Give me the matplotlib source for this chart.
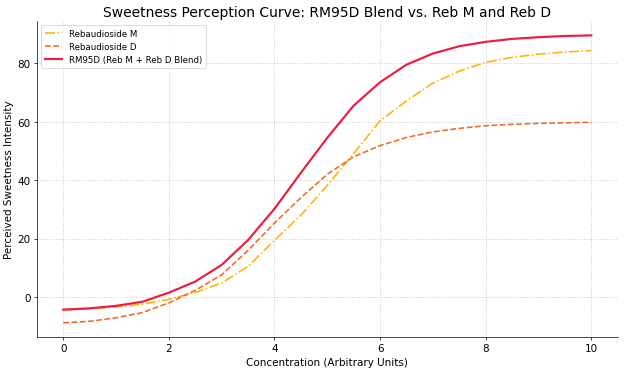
import matplotlib
matplotlib.use("Agg")
import matplotlib.pyplot as plt

# concentration points (at 0.5 steps)
conc = [0, 0.5, 1, 1.5, 2, 2.5, 3, 3.5, 4, 4.5, 5,
        5.5, 6, 6.5, 7, 7.5, 8, 8.5, 9, 9.5, 10]

reb_m = [-4.4, -4.0, -3.4, -2.4, -0.8, 1.6, 4.8, 10.5, 19.4, 28.0, 38.2,
         49.1, 60.3, 67.1, 73.2, 77.3, 80.3, 82.0, 83.1, 83.8, 84.3]
reb_d = [-8.8, -8.3, -7.1, -5.3, -2.0, 2.3, 7.6, 16.0, 25.3, 34.0, 42.0,
         48.0, 51.8, 54.6, 56.5, 57.7, 58.6, 59.1, 59.4, 59.6, 59.8]
rm95d = [-4.3, -3.85, -3.0, -1.6, 1.5, 5.3, 11.0, 19.5, 30.2, 42.5, 54.5,
         65.5, 73.5, 79.5, 83.3, 85.8, 87.3, 88.3, 88.9, 89.3, 89.5]

fig, ax = plt.subplots(figsize=(10, 5.96), dpi=62.4)

ax.plot(conc, reb_m, color="#FFB000", linestyle="-.", linewidth=1.8, label="Rebaudioside M")
ax.plot(conc, reb_d, color="#F26522", linestyle="--", linewidth=1.8, label="Rebaudioside D")
ax.plot(conc, rm95d, color="#EE1C3F", linestyle="-", linewidth=2.5, label="RM95D (Reb M + Reb D Blend)")

ax.set_title("Sweetness Perception Curve: RM95D Blend vs. Reb M and Reb D", fontsize=16)
ax.set_xlabel("Concentration (Arbitrary Units)", fontsize=12)
ax.set_ylabel("Perceived Sweetness Intensity", fontsize=12)
ax.tick_params(labelsize=12)
ax.grid(True, linestyle=":", color="#c4c4c4", linewidth=1)
ax.spines["top"].set_visible(False)
ax.spines["right"].set_visible(False)
ax.legend(loc="upper left", fontsize=10)

fig.subplots_adjust(left=0.059, right=0.99, top=0.941, bottom=0.091)
fig.savefig("out.png", dpi=62.4)
